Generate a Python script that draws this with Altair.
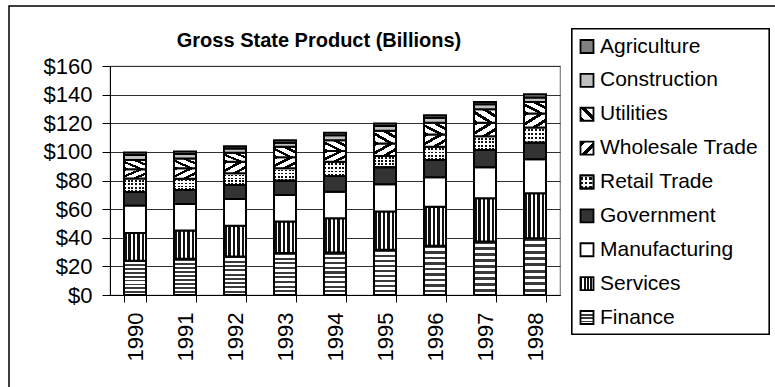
import altair as alt
import pandas as pd

years = ["1990", "1991", "1992", "1993", "1994", "1995", "1996", "1997", "1998"]

# bottom -> top stacking order
finance = [24.0, 25.3, 26.9, 29.3, 29.7, 31.6, 34.4, 37.4, 39.7]
services = [19.3, 19.7, 21.4, 22.0, 24.0, 26.7, 27.3, 30.2, 31.4]
manufacturing = [19.2, 18.6, 18.8, 18.6, 18.5, 19.1, 20.5, 21.6, 23.7]
government = [9.4, 9.8, 9.8, 10.0, 10.9, 11.8, 12.1, 12.1, 11.5]
retail = [9.5, 7.9, 8.1, 8.6, 10.0, 7.9, 9.3, 9.7, 10.8]
wholesale = [6.5, 7.2, 8.1, 7.7, 7.5, 8.8, 8.6, 9.3, 9.7]
utilities = [6.5, 6.9, 6.3, 7.4, 7.6, 8.8, 8.1, 9.5, 8.1]
construction = [3.5, 3.1, 3.0, 2.8, 3.5, 3.3, 3.5, 3.5, 3.1]
agriculture = [1.6, 1.8, 1.6, 1.8, 1.6, 1.9, 1.8, 1.6, 2.3]

stack_names = ["Finance", "Services", "Manufacturing", "Government", "Retail Trade",
               "Wholesale Trade", "Utilities", "Construction", "Agriculture"]
stack_values = [finance, services, manufacturing, government, retail,
                wholesale, utilities, construction, agriculture]
legend_names = list(reversed(stack_names))

title_text = "Gross State Product (Billions)"
y_ticks = [0, 20, 40, 60, 80, 100, 120, 140, 160]

rows = []
for i, (name, vals) in enumerate(zip(stack_names, stack_values)):
    for y, v in zip(years, vals):
        rows.append({"year": y, "cat": name, "order": i, "value": v})
df = pd.DataFrame(rows)
leg_df = pd.DataFrame({"name": legend_names})

FONT = "Liberation Sans"


def stripes(n, c1, c2, frac, x1, y1, x2, y2):
    stops = []
    for i in range(n):
        a = i / n
        b = (i + frac) / n
        c = (i + 1) / n
        stops += [alt.GradientStop(color=c1, offset=round(a, 4)),
                  alt.GradientStop(color=c1, offset=round(b, 4)),
                  alt.GradientStop(color=c2, offset=round(b, 4)),
                  alt.GradientStop(color=c2, offset=round(min(c, 1.0), 4))]
    return alt.LinearGradient(gradient="linear", stops=stops, x1=x1, y1=y1, x2=x2, y2=y2)


CLEAR = "rgba(255,255,255,0)"


def fills(big):
    if big:
        nf, ns, nh, nr1, nr2 = 9, 5, 3, 6, 4
    else:
        nf, ns, nh, nr1, nr2 = 4, 4, 2, 3, 3
    return {
        "Finance": stripes(nf, "#3a3a3a", "#ffffff", 0.45, 0, 0, 0, 1),
        "Services": stripes(ns, "#111111", "#ffffff", 0.58, 0, 0, 1, 0),
        "Manufacturing": "#ffffff",
        "Government": "#333333",
        "Retail Trade": stripes(nr1, "#111111", "#ffffff", 0.55, 0, 0, 1, 0),
        "Wholesale Trade": stripes(nh, "#000000", "#ffffff", 0.38, 0, 0, 1, 1),
        "Utilities": stripes(nh, "#000000", "#ffffff", 0.38, 0, 1, 1, 0),
        "Construction": "#c0c0c0",
        "Agriculture": "#808080",
    }, stripes(nr2, "#ffffff", CLEAR, 0.45, 0, 0, 0, 1)


bar_fills, bar_overlay = fills(True)
leg_fills, leg_overlay = fills(False)

x_axis = alt.Axis(labelAngle=-90, labelFont=FONT, labelFontSize=22, labelColor="black",
                  tickBand="extent", tickSize=7, tickColor="black", domainColor="black",
                  labelPadding=10, grid=False, title=None)
y_axis = alt.Axis(values=y_ticks, format="$,.0f", labelFont=FONT, labelFontSize=22,
                  labelColor="black", tickSize=8, tickColor="black", domainColor="black",
                  labelPadding=10, grid=True, gridColor="#303030", gridWidth=1, title=None)

x_enc = alt.X("year:N", scale=alt.Scale(paddingInner=0.56, paddingOuter=0.28), axis=x_axis)
y_enc = alt.Y("v1:Q", scale=alt.Scale(domain=[0, 160], nice=False), axis=y_axis)

base = alt.Chart(df).transform_stack(
    stack="value", groupby=["year"], as_=["v0", "v1"],
    sort=[alt.SortField(field="order", order="ascending")]
)

bar_layers = []
for name in stack_names:
    bar_layers.append(
        base.transform_filter(alt.datum.cat == name)
        .mark_bar(fill=bar_fills[name], stroke="black", strokeWidth=2)
        .encode(x=x_enc, y=y_enc, y2="v0:Q")
    )
    if name == "Retail Trade":
        bar_layers.append(
            base.transform_filter(alt.datum.cat == name)
            .mark_bar(fill=bar_overlay, stroke="black", strokeWidth=2)
            .encode(x=x_enc, y=y_enc, y2="v0:Q")
        )
bars = alt.layer(*bar_layers)

leg_y = alt.Y("name:N", scale=alt.Scale(type="point", domain=legend_names,
                                        range=[-19.5, 251.5], padding=0), axis=None)
leg_base = alt.Chart(leg_df)
leg_layers = [
    leg_base.mark_rect(fill="white", stroke="black", strokeWidth=1.2).encode(
        x=alt.value(462), x2=alt.value(659), y=alt.value(-37), y2=alt.value(268))
]
for name in legend_names:
    leg_layers.append(
        leg_base.transform_filter(alt.datum.name == name)
        .mark_square(size=169, fill=leg_fills[name], stroke="black", strokeWidth=1.8, opacity=1)
        .encode(x=alt.value(477), y=leg_y)
    )
    if name == "Retail Trade":
        leg_layers.append(
            leg_base.transform_filter(alt.datum.name == name)
            .mark_square(size=169, fill=leg_overlay, stroke="black", strokeWidth=1.8, opacity=1)
            .encode(x=alt.value(477), y=leg_y)
        )
leg_layers.append(
    leg_base.mark_text(align="left", baseline="middle", font=FONT, fontSize=21, color="black")
    .encode(x=alt.value(490), y=leg_y, text="name:N")
)
legend = alt.layer(*leg_layers)

deco = alt.layer(
    alt.Chart(pd.DataFrame({"t": [title_text]})).mark_rect(
        fill=None, stroke="black", strokeWidth=1.5).encode(
        x=alt.value(-101), x2=alt.value(700), y=alt.value(-60), y2=alt.value(400)),
    alt.Chart(pd.DataFrame({"t": [title_text]})).mark_text(
        font=FONT, fontSize=20, fontWeight="bold", align="center", baseline="middle",
        color="black").encode(x=alt.value(209), y=alt.value(-25), text="t:N"),
)

chart = alt.layer(deco, bars, legend).resolve_scale(y="independent").properties(
    width=450, height=229,
    padding={"left": 110, "top": 66, "right": 215, "bottom": 92},
    autosize=alt.AutoSizeParams(type="none"),
    background="white",
).configure_view(stroke="#808080", strokeWidth=1.2)

chart.save("out.html", embed_options={"renderer": "svg", "actions": False})
